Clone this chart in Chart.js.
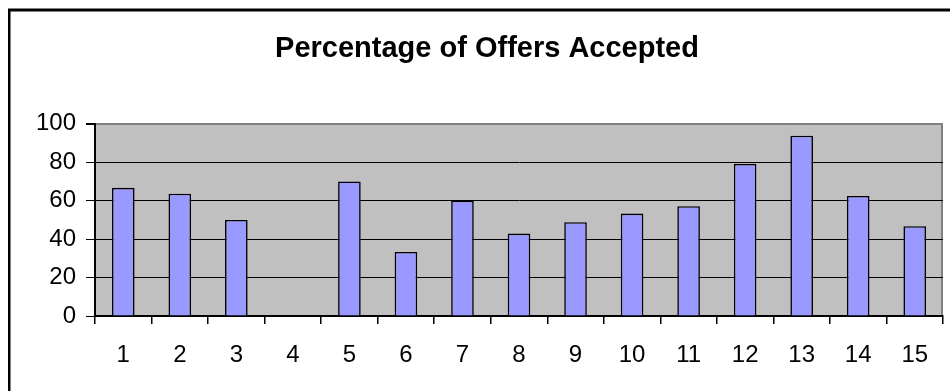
<!DOCTYPE html>
<html>
<head>
<meta charset="utf-8">
<script src="https://cdn.jsdelivr.net/npm/chart.js@4.4.0/dist/chart.umd.min.js"></script>
<style>
  html, body { margin: 0; padding: 0; background: #fff; }
  #chart { display: block; }
</style>
</head>
<body>
<canvas id="chart" width="950" height="391"></canvas>
<script>
// values
const categories = ["1", "2", "3", "4", "5", "6", "7", "8", "9", "10", "11", "12", "13", "14", "15"];
const accepted = [66.7, 63.6, 50, 0, 70, 33.3, 60, 42.9, 48.8, 53.3, 57.1, 79.2, 93.8, 62.5, 46.7];
const yTicks = [0, 20, 40, 60, 80, 100];

const FONT = "'Liberation Sans', Arial, sans-serif";

// gray plot area + the outer black frame, excel style
const excelLook = {
    id: "excelLook",
    beforeDraw(chart) {
        const { ctx, chartArea: a } = chart;
        ctx.save();
        ctx.fillStyle = "#fff";
        ctx.fillRect(0, 0, chart.width, chart.height);
        // frame (only top/left show in the crop)
        ctx.fillStyle = "#808080";
        ctx.fillRect(8, 8, chart.width, 1);
        ctx.fillStyle = "#000";
        ctx.fillRect(8, 9, chart.width, 2.5);
        ctx.fillRect(8, 9, 2.5, chart.height);
        ctx.fillStyle = "#c0c0c0";
        ctx.fillRect(a.left, a.top, a.right - a.left, a.bottom - a.top);
        ctx.strokeStyle = "#808080";
        ctx.lineWidth = 2;
        ctx.beginPath();
        ctx.moveTo(a.right - 1, a.top);
        ctx.lineTo(a.right - 1, a.bottom);
        ctx.stroke();
        ctx.restore();
    }
};

new Chart(document.getElementById("chart"), {
    type: "bar",
    data: {
        labels: categories,
        datasets: [{
            label: "Percentage of Offers Accepted",
            data: accepted,
            backgroundColor: "#9999ff",
            borderColor: "#000",
            borderWidth: 1.6,
            borderSkipped: "bottom",
            categoryPercentage: 1,
            barPercentage: 0.4,
        }]
    },
    options: {
        responsive: false,
        animation: false,
        devicePixelRatio: 1,
        layout: { padding: { top: 0, left: 31, right: 7, bottom: 0 } },
        plugins: {
            legend: { display: false },
            tooltip: { enabled: false },
            title: {
                display: true,
                text: "Percentage of Offers Accepted",
                color: "#000",
                font: { family: FONT, size: 29, weight: "bold", lineHeight: 1.2 },
                padding: { top: 32, bottom: 57 },
            }
        },
        scales: {
            x: {
                offset: true,
                grid: {
                    offset: true,
                    drawOnChartArea: false,
                    drawTicks: true,
                    tickLength: 8,
                    color: "#000",
                    lineWidth: 1.5,
                },
                border: { display: true, color: "#000", width: 2 },
                ticks: {
                    color: "#000",
                    padding: 17,
                    maxRotation: 0,
                    autoSkip: false,
                    font: { family: FONT, size: 24, lineHeight: 1.2 },
                },
                afterFit: (s) => { s.height = 75; }
            },
            y: {
                min: 0,
                max: 100,
                afterBuildTicks: (s) => { s.ticks = yTicks.map(v => ({ value: v })); },
                grid: {
                    color: (c) => (c.tick && c.tick.value === 100 ? "#808080" : "#000"),
                    lineWidth: (c) => (c.tick && c.tick.value === 100 ? 2 : 1),
                    tickColor: "#000",
                    tickLength: 9,
                },
                border: { display: true, color: "#000", width: 2 },
                ticks: {
                    color: "#000",
                    padding: 10,
                    font: { family: FONT, size: 24, lineHeight: 1.2 },
                },
                afterFit: (s) => { s.width = 64; }
            }
        }
    },
    plugins: [excelLook]
});
</script>
</body>
</html>
